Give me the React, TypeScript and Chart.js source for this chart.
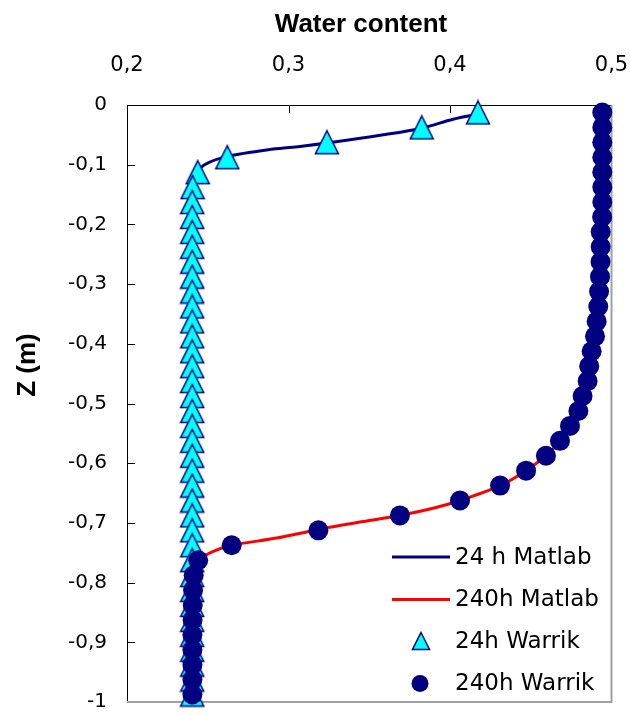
import React, { useEffect, useRef } from "react";
import { Chart, registerables } from "chart.js";

Chart.register(...registerables);

// ---------- data ----------
const seriesNames = ["24 h Matlab", "240h Matlab", "24h Warrik", "240h Warrik"];
const axisTitleX = "Water content";
const axisTitleY = "Z (m)";

// depth of Warrik nodes (m)
const zWarrik = [
  -0.0125, -0.0375, -0.0625, -0.0875, -0.1125, -0.1375, -0.1625, -0.1875, -0.2125, -0.2375,
  -0.2625, -0.2875, -0.3125, -0.3375, -0.3625, -0.3875, -0.4125, -0.4375, -0.4625, -0.4875,
  -0.5125, -0.5375, -0.5625, -0.5875, -0.6125, -0.6375, -0.6625, -0.6875, -0.7125, -0.7375,
  -0.7625, -0.7875, -0.8125, -0.8375, -0.8625, -0.8875, -0.9125, -0.9375, -0.9625, -0.9875,
];
const theta24hWarrik = [
  0.4173, 0.3825, 0.3238, 0.2621, 0.2438, 0.2406, 0.2404, 0.2404, 0.2404, 0.2404,
  0.2404, 0.2404, 0.2404, 0.2404, 0.2404, 0.2404, 0.2404, 0.2404, 0.2404, 0.2404,
  0.2404, 0.2404, 0.2404, 0.2404, 0.2404, 0.2404, 0.2404, 0.2404, 0.2404, 0.2404,
  0.2404, 0.2404, 0.2404, 0.2404, 0.2404, 0.2404, 0.2404, 0.2404, 0.2404, 0.2404,
];
const theta240hWarrik = [
  0.4943, 0.4943, 0.4943, 0.4943, 0.4943, 0.4943, 0.4943, 0.4942, 0.4933, 0.4933,
  0.4932, 0.4929, 0.4923, 0.4918, 0.4908, 0.4898, 0.4877, 0.4862, 0.4852, 0.4821,
  0.4795, 0.4743, 0.4681, 0.4594, 0.4471, 0.4310, 0.4062, 0.3690, 0.3185, 0.2648,
  0.2441, 0.2413, 0.2409, 0.2407, 0.2406, 0.2405, 0.2405, 0.2405, 0.2405, 0.2405,
];

const z24hMatlab = [
  -0.0130, -0.0238, -0.0388, -0.0500, -0.0638, -0.0694, -0.0738, -0.0861, -0.1000, -0.1150,
  -0.1350, -0.1700, -0.3000, -0.6000, -0.8000, -1.0000,
];
const theta24hMatlab = [
  0.4210, 0.4019, 0.3825, 0.3587, 0.3240, 0.3071, 0.2906, 0.2621, 0.2480, 0.2430,
  0.2410, 0.2405, 0.2404, 0.2404, 0.2404, 0.2404,
];

const z240hMatlab = [
  -0.0050, -0.1000, -0.1900, -0.2500, -0.3100, -0.3600, -0.4100, -0.4625, -0.5125, -0.5625,
  -0.5875, -0.6125, -0.6375, -0.6625, -0.6755, -0.6875, -0.6977, -0.7110, -0.7254, -0.7375,
  -0.7475, -0.7625, -0.7780, -0.8000, -0.9000, -1.0000,
];
const theta240hMatlab = [
  0.4945, 0.4943, 0.4942, 0.4933, 0.4925, 0.4908, 0.4877, 0.4852, 0.4795, 0.4681,
  0.4594, 0.4471, 0.4310, 0.4062, 0.3895, 0.3690, 0.3463, 0.3185, 0.2927, 0.2648,
  0.2534, 0.2441, 0.2407, 0.2405, 0.2404, 0.2403,
];

// ---------- styles ----------
const NAVY = "#000080";
const RED = "#ff0000";
const CYAN = "#00ffff";
const TICK_FONT = '"DejaVu Sans", "Liberation Sans", sans-serif';
const TITLE_FONT = 'bold 26px "Liberation Sans", Arial, sans-serif';
const LEGEND_FONT = '23px "DejaVu Sans", "Liberation Sans", sans-serif';

const fmt = (v: number | string) => {
  const s = Math.round(Number(v) * 10) / 10;
  return s === 0 ? "0" : String(s).replace(".", ",");
};

function makeTriangle(size: number, lw: number) {
  const pad = 1.5;
  const c = document.createElement("canvas");
  const s = Math.round(size + pad * 2);
  c.width = s;
  c.height = s;
  const g = c.getContext("2d")!;
  g.beginPath();
  g.moveTo(s / 2, pad);
  g.lineTo(s - pad, s - pad);
  g.lineTo(pad, s - pad);
  g.closePath();
  g.fillStyle = CYAN;
  g.fill();
  g.lineWidth = lw;
  g.strokeStyle = NAVY;
  g.lineJoin = "miter";
  g.stroke();
  return c;
}

const framePlugin = {
  id: "frame",
  beforeDatasetsDraw(chart: any) {
    const { ctx, chartArea: a, scales } = chart;
    ctx.save();
    ctx.strokeStyle = "#a0a0a0";
    ctx.lineWidth = 2;
    ctx.beginPath();
    ctx.moveTo(a.right, a.top);
    ctx.lineTo(a.right, a.bottom);
    ctx.lineTo(a.left, a.bottom);
    ctx.stroke();
    ctx.strokeStyle = "#000";
    ctx.lineWidth = 1;
    ctx.beginPath();
    for (const t of scales.x.ticks) {
      const px = Math.round(scales.x.getPixelForValue(t.value)) + 0.5;
      if (px > a.left + 3 && px < a.right - 3) {
        ctx.moveTo(px, a.top);
        ctx.lineTo(px, a.top + 8);
      }
    }
    for (const t of scales.y.ticks) {
      const py = Math.round(scales.y.getPixelForValue(t.value)) + 0.5;
      if (py > a.top + 3 && py < a.bottom - 3) {
        ctx.moveTo(a.left, py);
        ctx.lineTo(a.left + 8, py);
      }
    }
    ctx.stroke();
    ctx.restore();
  },
};

const textPlugin = {
  id: "texts",
  afterDraw(chart: any) {
    const { ctx } = chart;
    ctx.save();
    ctx.fillStyle = "#000";
    ctx.font = TITLE_FONT;
    ctx.textAlign = "center";
    ctx.textBaseline = "alphabetic";
    ctx.fillText(axisTitleX, 361, 32);
    ctx.save();
    ctx.translate(35, 365);
    ctx.rotate(-Math.PI / 2);
    ctx.fillText(axisTitleY, 0, 0);
    ctx.restore();

    // legend
    const tx = 455;
    const baselines = [563.5, 606, 647.5, 690];
    ctx.font = LEGEND_FONT;
    ctx.textAlign = "left";
    seriesNames.forEach((name, i) => {
      const by = baselines[i];
      const cy = by - 6.5;
      if (i < 2) {
        ctx.strokeStyle = i === 0 ? NAVY : RED;
        ctx.lineWidth = 3;
        ctx.beginPath();
        ctx.moveTo(392, cy);
        ctx.lineTo(450, cy);
        ctx.stroke();
      } else if (i === 2) {
        ctx.beginPath();
        ctx.moveTo(421, cy - 8.5);
        ctx.lineTo(429.5, cy + 8.5);
        ctx.lineTo(412.5, cy + 8.5);
        ctx.closePath();
        ctx.fillStyle = CYAN;
        ctx.fill();
        ctx.strokeStyle = NAVY;
        ctx.lineWidth = 1.5;
        ctx.stroke();
      } else {
        ctx.beginPath();
        ctx.arc(420, cy, 8.5, 0, Math.PI * 2);
        ctx.fillStyle = NAVY;
        ctx.fill();
      }
      ctx.fillStyle = "#000";
      ctx.fillText(name, tx, by);
    });
    ctx.restore();
  },
};

export default function App() {
  const ref = useRef<HTMLCanvasElement>(null);
  useEffect(() => {
    const canvas = ref.current!;
    const tri = makeTriangle(23, 1.5);
    const chart = new Chart(canvas, {
      type: "scatter",
      data: {
        datasets: [
          {
            label: seriesNames[0],
            data: z24hMatlab.map((z, i) => ({ x: theta24hMatlab[i], y: z })),
            showLine: true,
            borderColor: NAVY,
            backgroundColor: NAVY,
            borderWidth: 3,
            pointRadius: 0,
            pointHoverRadius: 0,
            tension: 0.3,
            order: 4,
          },
          {
            label: seriesNames[1],
            data: z240hMatlab.map((z, i) => ({ x: theta240hMatlab[i], y: z })),
            showLine: true,
            borderColor: RED,
            backgroundColor: RED,
            borderWidth: 3,
            pointRadius: 0,
            pointHoverRadius: 0,
            tension: 0.3,
            order: 3,
          },
          {
            label: seriesNames[2],
            data: zWarrik.map((z, i) => ({ x: theta24hWarrik[i], y: z })),
            showLine: false,
            pointStyle: tri as any,
            pointRadius: 12,
            pointHoverRadius: 12,
            clip: false as any,
            order: 2,
          },
          {
            label: seriesNames[3],
            data: zWarrik.map((z, i) => ({ x: theta240hWarrik[i], y: z })),
            showLine: false,
            pointStyle: "circle",
            pointRadius: 10,
            pointHoverRadius: 10,
            pointBorderWidth: 0,
            backgroundColor: NAVY,
            borderColor: NAVY,
            clip: false as any,
            order: 1,
          },
        ],
      },
      options: {
        animation: false,
        responsive: false,
        devicePixelRatio: 1,
        events: [],
        layout: { padding: { left: 0, top: 0, right: 18.5, bottom: 8 } },
        plugins: {
          legend: { display: false },
          tooltip: { enabled: false },
          title: { display: false },
        },
        scales: {
          x: {
            type: "linear",
            position: "top",
            min: 0.2,
            max: 0.5,
            ticks: {
              stepSize: 0.1,
              padding: 27,
              color: "#000",
              font: { family: TICK_FONT, size: 21 },
              callback: (v: any) => fmt(v),
              maxRotation: 0,
              autoSkip: false,
            },
            grid: { display: false, drawTicks: false },
            border: { display: true, color: "#000", width: 1 },
            afterFit: (s: any) => {
              s.height = 105;
              s.paddingLeft = 0;
              s.paddingRight = 0;
            },
          },
          y: {
            type: "linear",
            position: "left",
            min: -1,
            max: 0,
            ticks: {
              stepSize: 0.1,
              padding: 20,
              color: "#000",
              font: { family: TICK_FONT, size: 20 },
              callback: (v: any) => fmt(v),
              autoSkip: false,
            },
            grid: { display: false, drawTicks: false },
            border: { display: true, color: "#000", width: 1 },
            afterFit: (s: any) => {
              s.width = 127;
              s.paddingTop = 0;
              s.paddingBottom = 0;
            },
          },
        },
      } as any,
      plugins: [framePlugin, textPlugin],
    });
    return () => chart.destroy();
  }, []);
  return (
    <div style={{ position: "absolute", left: 0, top: 0, width: 630, height: 715, background: "#fff" }}>
      <canvas ref={ref} width={630} height={715} style={{ display: "block" }} />
    </div>
  );
}
